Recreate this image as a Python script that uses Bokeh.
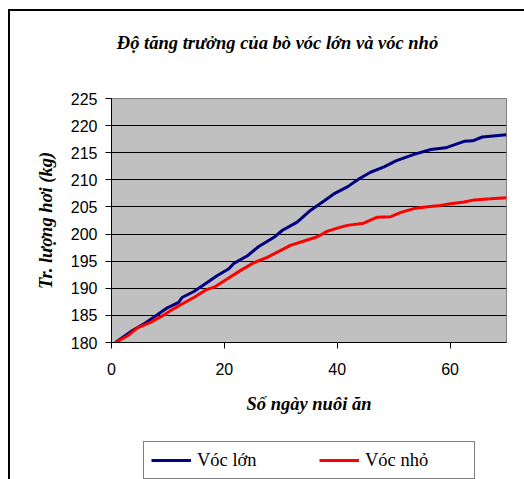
from bokeh.plotting import figure
from bokeh.models import FixedTicker, Legend, LegendItem, Range1d, Label, Div, Spacer
from bokeh.layouts import column, row
from bokeh.embed import file_html
from bokeh.resources import INLINE

# ---- data ----
days_large = [0.7, 3.4, 6.0, 7.8, 9.9, 11.9, 12.5, 14.6, 16.7, 18.7, 20.8, 21.7, 24.1, 26.1,
              28.8, 30.3, 32.9, 35.3, 37.4, 39.4, 41.8, 43.9, 45.9, 48.3, 50.4, 53.6, 56.6,
              59.2, 62.5, 64.0, 65.7, 70.0]
weight_large = [180.0, 182.0, 183.6, 184.9, 186.4, 187.4, 188.3, 189.4, 190.9, 192.3, 193.6,
                194.6, 196.0, 197.7, 199.4, 200.7, 202.2, 204.4, 205.9, 207.4, 208.7, 210.2,
                211.4, 212.4, 213.5, 214.7, 215.6, 215.9, 217.1, 217.2, 217.9, 218.3]

days_small = [0.7, 2.8, 4.6, 6.9, 9.0, 10.5, 12.5, 14.6, 16.7, 18.2, 20.5, 22.9, 25.2, 27.6,
              30.0, 31.7, 34.7, 36.5, 38.2, 40.0, 41.8, 44.7, 47.1, 49.5, 51.3, 53.6, 55.7,
              57.8, 60.1, 62.5, 64.3, 67.2, 70.0]
weight_small = [180.0, 181.2, 182.7, 183.7, 184.9, 185.9, 187.1, 188.3, 189.7, 190.2, 191.7,
                193.3, 194.7, 195.7, 197.0, 197.9, 198.9, 199.5, 200.5, 201.1, 201.6, 202.0,
                203.1, 203.2, 204.0, 204.7, 205.0, 205.2, 205.6, 205.9, 206.3, 206.5, 206.7]

x_ticks = [0, 20, 40, 60]
y_ticks = [180, 185, 190, 195, 200, 205, 210, 215, 220, 225]

title_text = "Độ tăng trưởng của bò vóc lớn và vóc nhỏ"
x_label = "Số ngày nuôi ăn"
y_label = "Tr. lượng hơi (kg)"
series_names = ["Vóc lớn", "Vóc nhỏ"]
series_colors = ["#000080", "#FF0000"]

SERIF = "Liberation Serif"
SANS = "Liberation Sans"
W = 514


def blank_figure(height):
    f = figure(width=W, height=height, output_backend="svg", toolbar_location=None,
               x_axis_type=None, y_axis_type=None, min_border=0,
               min_border_left=0, min_border_right=0, min_border_top=0, min_border_bottom=0)
    f.outline_line_color = None
    f.background_fill_color = "white"
    f.border_fill_color = "white"
    f.xgrid.visible = False
    f.ygrid.visible = False
    return f


# ---- title strip (its frame is aligned with the chart's frame by the column layout) ----
p_title = blank_figure(75)
p_title.add_layout(Label(x=166, y=44, x_units="screen", y_units="screen", text=title_text,
                         text_font=SERIF, text_font_style="bold italic",
                         text_font_size="18.5px", text_color="black",
                         text_align="center", text_baseline="alphabetic"))

# ---- main chart ----
p = figure(width=W, height=345, output_backend="svg", toolbar_location=None, title=None,
           x_range=Range1d(0, 70), y_range=Range1d(180, 225),
           min_border_left=101, min_border_right=18, min_border_top=12, min_border_bottom=89)
p.background_fill_color = "#C0C0C0"
p.border_fill_color = "white"
p.outline_line_color = "#808080"
p.outline_line_width = 1

p.xgrid.grid_line_color = None
p.ygrid.grid_line_color = "black"
p.ygrid.grid_line_width = 1

for ax in (p.xaxis[0], p.yaxis[0]):
    ax.axis_line_color = "black"
    ax.major_tick_line_color = "black"
    ax.major_tick_out = 6
    ax.major_tick_in = 0
    ax.minor_tick_line_color = None
    ax.major_label_text_font = SANS
    ax.major_label_text_font_size = "16px"
    ax.major_label_text_color = "black"
    ax.axis_label_text_font = SERIF
    ax.axis_label_text_font_style = "bold italic"
    ax.axis_label_text_font_size = "18.5px"
    ax.axis_label_text_color = "black"

p.xaxis.ticker = FixedTicker(ticks=x_ticks)
p.yaxis.ticker = FixedTicker(ticks=y_ticks)
p.xaxis.axis_label = x_label
p.yaxis.axis_label = y_label
p.xaxis.major_label_standoff = 14
p.yaxis.major_label_standoff = 8
p.xaxis.axis_label_standoff = 16
p.yaxis.axis_label_standoff = 12

p.line(days_large, weight_large, line_color=series_colors[0], line_width=3)
p.line(days_small, weight_small, line_color=series_colors[1], line_width=3)

# ---- legend strip (keys drawn from the same series, outside its visible range) ----
p_leg = blank_figure(48)
p_leg.x_range = Range1d(-20, -10)
p_leg.y_range = Range1d(0, 1)
l1 = p_leg.line(days_large, weight_large, line_color=series_colors[0], line_width=3)
l2 = p_leg.line(days_small, weight_small, line_color=series_colors[1], line_width=3)
legend = Legend(items=[LegendItem(label=series_names[0], renderers=[l1]),
                       LegendItem(label=series_names[1], renderers=[l2])],
                location=(32, 0), orientation="horizontal",
                border_line_color="black", border_line_width=1,
                background_fill_color="white", background_fill_alpha=1.0,
                label_text_font=SERIF, label_text_font_size="18.5px",
                label_text_color="black",
                glyph_width=40, glyph_height=22, label_height=22,
                label_standoff=6, label_width=102, spacing=20, padding=7, margin=0)
p_leg.add_layout(legend, "center")

# ---- outer chart-area frame: left and top edges ----
bar_top = Div(text="", width=516, height=2, margin=0, styles={"background-color": "black"})
bar_left = Div(text="", width=2, height=468, margin=0, styles={"background-color": "black"})

inner = column(p_title, p, p_leg, spacing=0)
layout = column(Spacer(width=524, height=9, margin=0),
                row(Spacer(width=8, height=2, margin=0), bar_top, spacing=0),
                row(Spacer(width=8, height=468, margin=0), bar_left, inner, spacing=0),
                spacing=0)

open("out.html", "w").write(file_html(layout, INLINE))
